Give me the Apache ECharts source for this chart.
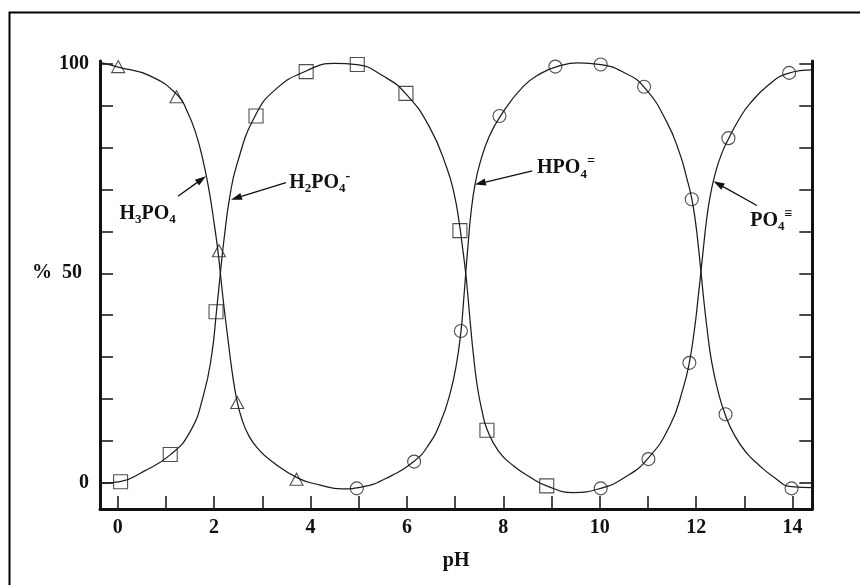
<!DOCTYPE html>
<html>
<head>
<meta charset="utf-8">
<script src="https://cdn.jsdelivr.net/npm/echarts@6/dist/echarts.min.js"></script>
<style>
  html, body { margin: 0; padding: 0; background: #fff; }
  #chart { width: 860px; height: 585px; }
</style>
</head>
<body>
<div id="chart"></div>
<script>
// Phosphoric acid speciation: percentage of each species versus pH.
// Curve 1 traces H3PO4 then HPO4=, curve 2 traces H2PO4- then PO4≡.
const phA  = [-0.37, 0.01, 0.67, 1.24, 1.45, 1.62, 1.77, 1.90, 2.00, 2.08, 2.13, 2.20, 2.28, 2.37, 2.47, 2.58, 2.72, 2.90, 3.20, 3.75, 4.20, 4.65, 5.10, 5.55, 6.15, 6.45, 6.70, 6.90, 7.03, 7.12, 7.17, 7.22, 7.27, 7.33, 7.41, 7.52, 7.70, 7.93, 8.41, 8.80, 9.11, 9.55, 10.02, 10.50, 10.92, 11.39, 11.67, 11.80, 11.91, 11.99, 12.05, 12.10, 12.16, 12.24, 12.32, 12.45, 12.60, 12.80, 13.05, 13.30, 13.60, 13.98, 14.41];
const valA = [100.4, 99.3, 97.2, 92.6, 88.5, 83.5, 77.0, 69.5, 62.0, 55.3, 50.0, 42.5, 35.0, 26.8, 19.8, 15.0, 11.2, 8.2, 5.0, 1.0, -0.6, -1.5, -1.0, 0.9, 5.1, 9.0, 14.5, 21.5, 28.5, 36.0, 42.5, 50.0, 57.0, 64.5, 71.0, 76.5, 82.5, 87.4, 94.6, 97.9, 99.4, 100.3, 99.9, 98.0, 94.5, 86.2, 78.3, 73.0, 67.8, 62.0, 56.0, 50.4, 43.5, 35.5, 29.0, 22.0, 16.3, 11.2, 7.0, 4.2, 1.4, -1.0, -1.2];

const phB  = [-0.37, 0.05, 0.53, 1.09, 1.50, 1.78, 1.95, 2.05, 2.13, 2.21, 2.32, 2.47, 2.85, 3.30, 3.92, 4.50, 4.96, 5.50, 5.98, 6.48, 6.83, 6.98, 7.08, 7.15, 7.22, 7.27, 7.32, 7.38, 7.46, 7.56, 7.66, 7.90, 8.21, 8.55, 8.90, 9.45, 10.02, 10.49, 10.99, 11.46, 11.73, 11.86, 11.97, 12.04, 12.10, 12.16, 12.22, 12.30, 12.40, 12.52, 12.67, 12.90, 13.12, 13.50, 13.91, 14.41];
const valB = [-0.2, 0.2, 2.6, 6.6, 12.1, 20.9, 30.5, 41.0, 50.0, 58.5, 67.9, 75.9, 87.6, 94.2, 98.4, 100.2, 99.9, 97.2, 92.9, 84.7, 75.1, 69.0, 62.5, 56.5, 50.0, 44.0, 37.5, 30.5, 23.0, 17.0, 12.8, 7.5, 4.0, 1.3, -0.8, -2.4, -1.4, 1.0, 5.6, 13.7, 22.5, 28.7, 37.0, 44.0, 50.4, 57.0, 63.1, 69.0, 74.0, 78.3, 82.1, 87.0, 90.6, 95.0, 97.8, 98.6];

// Measured points, by species symbol
const triPH  = [0.01, 1.22, 2.10, 2.48, 3.71];
const triVal = [99.4, 92.2, 55.4, 19.1, 0.8];
const sqPH   = [0.06, 1.09, 2.04, 2.87, 3.91, 4.97, 5.98, 7.10, 7.66, 8.90];
const sqVal  = [0.2, 6.7, 40.8, 87.6, 98.2, 99.9, 93.0, 60.2, 12.5, -0.8];
const cirPH  = [4.96, 6.15, 7.12, 7.92, 9.08, 10.02, 10.92, 11.91, 12.61, 13.98, 10.02, 11.01, 11.86, 12.67, 13.93];
const cirVal = [-1.4, 5.0, 36.2, 87.6, 99.4, 99.9, 94.6, 67.7, 16.3, -1.4, -1.4, 5.6, 28.6, 82.3, 97.9];

// Axis ticks
const xTicks  = [0, 1, 2, 3, 4, 5, 6, 7, 8, 9, 10, 11, 12, 13, 14];
const xLabels = [0, 2, 4, 6, 8, 10, 12, 14];
const yTicks  = [0, 10, 20, 30, 40, 50, 60, 70, 80, 90, 100];
const yLabels = [0, 50, 100];

// Species labels: [rich text, tip pH, tip %, tail pH, tail %, text pH, text %, align]
const speciesNotes = [
  ['{n|H}{s|3}{n|PO}{s|4}',        1.83, 73.2, 1.25, 68.4, 0.62, 64.3, 'center'],
  ['{n|H}{s|2}{n|PO}{s|4}{p|-}',   2.35, 67.6, 3.49, 71.7, 3.56, 71.7, 'left'],
  ['{n|HPO}{s|4}{p|=}',            7.41, 71.2, 8.60, 74.5, 8.70, 75.2, 'left'],
  ['{n|PO}{s|4}{p|≡}',            12.36, 72.0, 13.26, 66.2, 13.56, 62.6, 'center']
];

const zip = (xs, ys) => xs.map((x, i) => [x, ys[i]]);

const FONT = '"Liberation Serif", "DejaVu Serif", serif';
const INK = '#111';
const FS = 20;

const chart = echarts.init(document.getElementById('chart'), null, { renderer: 'canvas' });

const markerStyle = { color: 'rgba(255,255,255,0)', borderColor: '#222', borderWidth: 1.1 };
const labelFont = { color: INK, fontFamily: FONT, fontWeight: 'bold', fontSize: FS };

chart.setOption({
  animation: false,
  backgroundColor: '#fff',
  grid: { left: 100, right: 47.7, top: 61, bottom: 76 },
  xAxis: {
    type: 'value', min: -0.367, max: 14.41,
    axisLine: { onZero: false, lineStyle: { color: INK, width: 3 } },
    axisTick: { inside: true, length: 13, customValues: xTicks, lineStyle: { color: INK, width: 1.5 } },
    axisLabel: Object.assign({ customValues: xLabels, margin: 9 }, labelFont),
    splitLine: { show: false },
    name: 'pH', nameLocation: 'middle', nameGap: 42,
    nameTextStyle: labelFont
  },
  yAxis: [
    {
      type: 'value', min: -6.33, max: 100.74,
      axisLine: { show: true, onZero: false, lineStyle: { color: INK, width: 3 } },
      axisTick: { show: true, inside: true, length: 13, customValues: yTicks, lineStyle: { color: INK, width: 1.5 } },
      axisLabel: Object.assign({
        customValues: yLabels, margin: 11,
        formatter: v => (v === 50 ? '{m|%  50}' : String(v)),
        rich: { m: Object.assign({ padding: [0, 7, 0, 0] }, labelFont) }
      }, labelFont),
      splitLine: { show: false }
    },
    {
      type: 'value', min: -6.33, max: 100.74, position: 'right',
      axisLine: { show: true, onZero: false, lineStyle: { color: INK, width: 3 } },
      axisTick: { show: true, inside: true, length: 13, customValues: yTicks, lineStyle: { color: INK, width: 1.5 } },
      axisLabel: { show: false },
      splitLine: { show: false }
    }
  ],
  series: [
    { type: 'line', data: zip(phA, valA), smooth: 0.5, showSymbol: false, silent: true,
      lineStyle: { color: '#1c1c1c', width: 1.25 }, z: 2 },
    { type: 'line', data: zip(phB, valB), smooth: 0.5, showSymbol: false, silent: true,
      lineStyle: { color: '#1c1c1c', width: 1.25 }, z: 2 },
    { type: 'scatter', symbol: 'triangle', symbolSize: [13, 12], data: zip(triPH, triVal), itemStyle: markerStyle, z: 3 },
    { type: 'scatter', symbol: 'rect', symbolSize: 14, data: zip(sqPH, sqVal), itemStyle: markerStyle, z: 3 },
    { type: 'scatter', symbol: 'circle', symbolSize: 13, data: zip(cirPH, cirVal), itemStyle: markerStyle, z: 3 }
  ]
});

// Page frame, species labels and their arrows
const px = (ph, v) => chart.convertToPixel({ gridIndex: 0 }, [ph, v]);
const graphics = [
  { type: 'polyline', shape: { points: [[9.5, 585], [9.5, 12.5], [860, 12.5]] },
    style: { stroke: '#000', lineWidth: 2, fill: null } }
];
const richStyles = {
  n: { fontFamily: FONT, fontWeight: 'bold', fontSize: FS, fill: INK, lineHeight: 26 },
  s: { fontFamily: FONT, fontWeight: 'bold', fontSize: 13, fill: INK, lineHeight: 26, verticalAlign: 'bottom' },
  p: { fontFamily: FONT, fontWeight: 'bold', fontSize: 14, fill: INK, lineHeight: 26, verticalAlign: 'top' }
};
speciesNotes.forEach(([txt, tph, tv, aph, av, lph, lv, align]) => {
  const tip = px(tph, tv), tail = px(aph, av), at = px(lph, lv);
  const dx = tip[0] - tail[0], dy = tip[1] - tail[1];
  const len = Math.hypot(dx, dy), ux = dx / len, uy = dy / len;
  const headLen = 11, headHalf = 3.6;
  const bx = tip[0] - ux * headLen, by = tip[1] - uy * headLen;
  graphics.push({ type: 'line', shape: { x1: tail[0], y1: tail[1], x2: bx, y2: by },
    style: { stroke: INK, lineWidth: 1.3 } });
  graphics.push({ type: 'polygon', shape: { points: [
      [tip[0], tip[1]],
      [bx - uy * headHalf, by + ux * headHalf],
      [bx + uy * headHalf, by - ux * headHalf]] },
    style: { fill: INK } });
  graphics.push({ type: 'text', x: at[0], y: at[1],
    style: { text: txt, rich: richStyles, align: align, verticalAlign: 'middle' } });
});
chart.setOption({ graphic: graphics });
</script>
</body>
</html>
